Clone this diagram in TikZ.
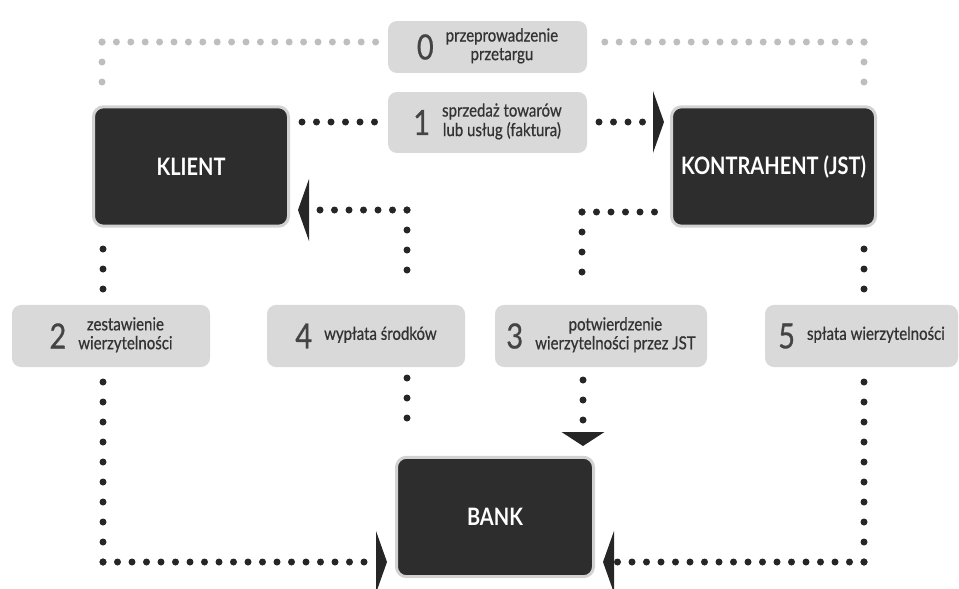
\documentclass[tikz,border=0pt]{standalone}
\usepackage{fontspec}
\setmainfont{Lato}
\newfontfamily\labfont[FakeBold=0.7]{Lato}
\usetikzlibrary{arrows.meta}

\definecolor{boxdark}{HTML}{2D2D2D}
\definecolor{boxrim}{HTML}{D2D2D2}
\definecolor{labfill}{HTML}{D9D9D9}
\definecolor{labtext}{HTML}{333333}
\definecolor{numtext}{HTML}{444444}
\definecolor{dotdark}{HTML}{262626}
\definecolor{dotgrey}{HTML}{BEBEBE}

\newcommand{\steptext}[2]{$\vcenter{\hbox{\fontsize{29}{29}\selectfont\color{numtext}#1}}$\hspace{12pt}$\vcenter{\hbox{\begin{tabular}{@{}c@{}}#2\end{tabular}}}$}

\tikzset{
  party/.style={draw=boxrim, line width=3pt, fill=boxdark, rounded corners=10pt,
    text=white, font=\fontsize{20}{24}\selectfont\bfseries, yscale=1.2,
    minimum height=99.5pt, inner sep=0pt},
  steplab/.style={fill=labfill, rounded corners=9pt, text=labtext,
    font=\labfont\fontsize{15}{15.5}\selectfont, yscale=1.2, minimum height=51.7pt, inner sep=0pt},
  hdotline/.style={draw=dotdark, line width=7pt, line cap=round, dash pattern=on 0pt off 14.5pt},
  vdotline/.style={draw=dotdark, line width=7pt, line cap=round, dash pattern=on 0pt off 20pt},
  greyh/.style={hdotline, draw=dotgrey, dash pattern=on 0pt off 14.4pt},
  greyv/.style={vdotline, draw=dotgrey},
  sidetip/.tip={Triangle[length=11pt, width=62pt, line width=0pt]},
  downtip/.tip={Triangle[length=14pt, width=43pt, line width=0pt]}
}

\begin{document}
\begin{tikzpicture}[x=1pt, y=-1pt]
\useasboundingbox (0,0) rectangle (959,589);

% --- parties ---
\node[party, minimum width=195pt] (klient) at (191,166.5) {KLIENT};
\node[party, minimum width=204pt] (kontrahent) at (773.5,166.5) {KONTRAHENT (JST)};
\node[party, minimum width=197pt] (bank) at (495,517) {BANK};

% --- steps ---
\node[steplab, minimum width=199pt, minimum height=43.3pt] (s0) at (487.5,47) {\steptext{0}{przeprowadzenie\\przetargu}};
\node[steplab, minimum width=199pt, minimum height=50.8pt] (s1) at (487.5,122.5) {\steptext{1}{sprzedaż towarów\\lub usług (faktura)}};
\node[steplab, minimum width=198pt] (s2) at (111,336) {\steptext{2}{zestawienie\\wierzytelności}};
\node[steplab, minimum width=198pt] (s4) at (366,336) {\steptext{4}{wypłata środków}};
\node[steplab, minimum width=212pt] (s3) at (601,336) {\steptext{3}{potwierdzenie\\wierzytelności przez JST}};
\node[steplab, minimum width=193pt] (s5) at (861.5,336) {\steptext{5}{spłata wierzytelności}};

% --- 0: tender ---
\coordinate (k0) at (102,83);  \coordinate (k0c) at (102,42);  \coordinate (s0w) at (377,42);
\coordinate (j0) at (864,83);  \coordinate (j0c) at (864,42);  \coordinate (s0e) at (600,42);
\draw[greyv] (k0c) -- (k0);
\draw[greyh] (k0c) -- (s0w);
\draw[greyv] (j0c) -- (j0);
\draw[greyh] (j0c) -- (s0e);

% --- 1: sale ---
\coordinate (k1) at (302,122); \coordinate (s1w) at (376,122);
\coordinate (s1e) at (599,122); \coordinate (j1) at (664,122);
\draw[hdotline] (k1) -- (s1w);
\draw[hdotline, -{sidetip}] (s1e) -- (j1);

% --- 2: KLIENT -> BANK ---
\coordinate (k2) at (103,249); \coordinate (s2n) at (103,290);
\coordinate (s2s) at (103,381); \coordinate (c2) at (103,562); \coordinate (b2) at (387,562);
\draw[vdotline] (k2) -- (s2n);
\draw[vdotline] (c2) -- (s2s);
\draw[hdotline, -{sidetip}] (c2) -- (b2);

% --- 3: KONTRAHENT -> BANK ---
\coordinate (j3) at (657,212); \coordinate (c3) at (582,212); \coordinate (s3n) at (582,292);
\coordinate (s3s) at (583,380); \coordinate (b3) at (583,446);
\draw[hdotline] (c3) -- (j3);
\draw[vdotline] (c3) -- (s3n);
\draw[vdotline, -{downtip}] (s3s) -- (b3);

% --- 4: BANK -> KLIENT ---
\coordinate (b4) at (407,438); \coordinate (s4s) at (407,378);
\coordinate (s4n) at (407,290); \coordinate (c4) at (407,210); \coordinate (k4) at (298,210);
\draw[vdotline] (s4s) -- (b4);
\draw[vdotline] (c4) -- (s4n);
\draw[hdotline, -{sidetip}] (c4) -- (k4);

% --- 5: KONTRAHENT -> BANK ---
\coordinate (j5) at (864,249); \coordinate (s5n) at (864,290);
\coordinate (s5s) at (864,381); \coordinate (c5) at (864,562); \coordinate (b5) at (603,562);
\draw[vdotline] (j5) -- (s5n);
\draw[vdotline] (c5) -- (s5s);
\draw[hdotline, -{sidetip}] (c5) -- (b5);
\end{tikzpicture}
\end{document}
